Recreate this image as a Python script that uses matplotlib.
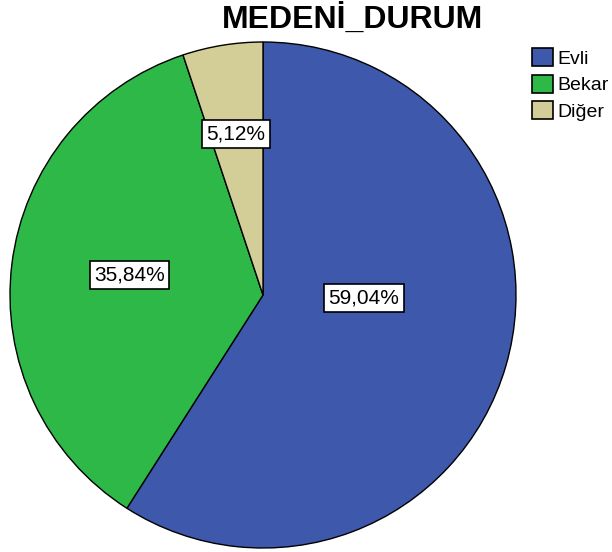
import matplotlib
matplotlib.use("Agg")
import matplotlib.pyplot as plt
from matplotlib.patches import Patch

categories = ["Evli", "Bekar", "Diğer"]
values = [59.04, 35.84, 5.12]
pct_labels = ["59,04%", "35,84%", "5,12%"]
colors = ["#3E58AC", "#2EB848", "#D3CE97"]
title = "MEDENİ_DURUM"

plt.rcParams['font.family'] = ['Liberation Sans', 'DejaVu Sans']

fig = plt.figure(figsize=(6.12, 5.52), dpi=100)
ax = fig.add_axes([10/612, 4/552, 506/612, 506/552])
wedges, _ = ax.pie(values, colors=colors, startangle=90, counterclock=False,
                   radius=1.0, wedgeprops=dict(edgecolor="black", linewidth=1.0))
ax.set_xlim(-1, 1)
ax.set_ylim(-1, 1)
ax.set_aspect("equal")
ax.axis("off")

label_pos = [(0.399, -0.012), (-0.526, 0.079), (-0.107, 0.636)]
for (x, y), t in zip(label_pos, pct_labels):
    ax.text(x, y, t, ha="center", va="center", fontsize=15,
            bbox=dict(boxstyle="square,pad=0.2", facecolor="white", edgecolor="black", linewidth=1.2))

fig.text(352/612, 1 - 20/552, title, ha="center", va="center", fontsize=23, fontweight="bold")

handles = [Patch(facecolor=c, edgecolor="black", linewidth=1.2) for c in colors]
fig.legend(handles, categories, loc="upper left", bbox_to_anchor=(532/612, 1 - 48/552),
           frameon=False, fontsize=14, handlelength=1.08, handleheight=1.05,
           handletextpad=0.2, labelspacing=0.36, borderaxespad=0, borderpad=0)

fig.savefig("out.png", dpi=100)
